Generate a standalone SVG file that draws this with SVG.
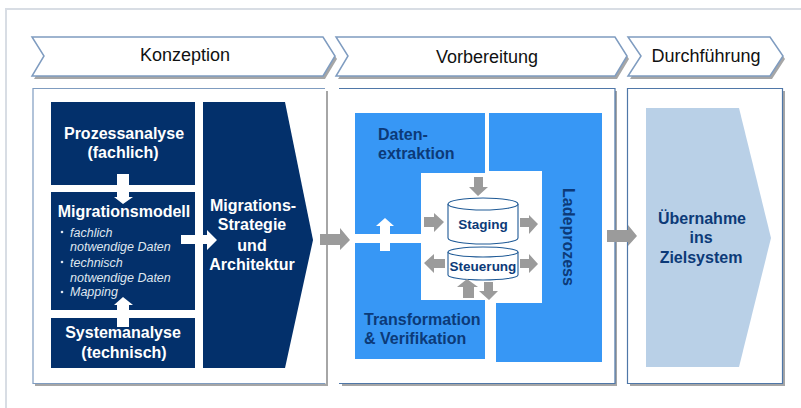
<svg xmlns="http://www.w3.org/2000/svg" width="801" height="408" viewBox="0 0 801 408">
<style>
text{font-family:"Liberation Sans",Arial,sans-serif;text-anchor:middle}
.hd{font-size:18px;fill:#111}
.wb{font-size:16px;font-weight:bold;fill:#fff}
.db{font-size:16px;font-weight:bold;fill:#0c3a78}
.cy{font-size:13.500px}
.st{text-anchor:start}
.it{font-size:12.500px;font-style:italic;fill:#dfe6ef;text-anchor:start}
.chev{fill:#fff;stroke:#7f9cc0;stroke-width:1.5}
.shade{fill:#a6a6a6}
.pf{fill:#fff}
.edge{fill:none;stroke:#4f77a8;stroke-width:1.2}
.navy{fill:#03306b}
.blue{fill:#3797f5}
.ga{fill:#9b9b9b}
.wa{fill:#fff}
.cyl{fill:#fff;stroke:#1f5a96;stroke-width:1.1}
.frame{fill:none;stroke:#d8dde4;stroke-width:2}
</style>
<rect width="801" height="408" fill="#fff"/>
<path class="frame" d="M6 408V9H801"/>
<g id="phase-konzeption">
<path class="shade" d="M34 40H325L337 59L325 79H34L46 59Z"/>
<path class="chev" d="M32 37H323L335 56L323 76H32L44 56Z"/>
<text class="hd" x="185" y="61">Konzeption</text>
</g>
<g id="phase-vorbereitung">
<path class="shade" d="M338 40H617L629 59L617 79H338L350 59Z"/>
<path class="chev" d="M336 37H615L627 56L615 76H336L348 56Z"/>
<text class="hd" x="487" y="63">Vorbereitung</text>
</g>
<g id="phase-durchfuehrung">
<path class="shade" d="M630 40H772L785 59L772 79H630L643 59Z"/>
<path class="chev" d="M628 37H770L783 56L770 76H628L641 56Z"/>
<text class="hd" x="706" y="62">Durchführung</text>
</g>
<g id="panel-konzeption">
<rect class="shade" x="35" y="91" width="293" height="295"/>
<rect class="pf" x="33" y="88.500" width="293" height="295"/>
<path class="edge" d="M325 88.500H33V383.500H325" style="stroke:#7f9cc0"/>
</g>
<g id="panel-vorbereitung">
<rect class="shade" x="342" y="91" width="275" height="295"/>
<rect class="pf" x="339" y="88.500" width="276" height="295"/>
<path class="edge" d="M339 88.500H615V383.500H339"/>
</g>
<g id="panel-durchfuehrung">
<rect class="shade" x="630" y="91" width="155" height="295"/>
<rect class="pf" x="627.500" y="88.500" width="155" height="295"/>
<path class="edge" d="M627.500 88.500H782.500V383.500H627.500Z"/>
</g>
<g id="prozessanalyse">
<rect class="navy" x="51" y="102" width="144" height="83"/>
<text class="wb" x="124" y="139">Prozessanalyse</text>
<text class="wb" x="123" y="158">(fachlich)</text>
</g>
<g id="migrationsmodell">
<rect class="navy" x="51" y="192" width="144" height="118"/>
<text class="wb" x="124" y="217">Migrationsmodell</text>
<circle cx="62" cy="232" r="1.300" fill="#dfe6ef"/>
<text class="it" x="70" y="237">fachlich</text>
<text class="it" x="70" y="251">notwendige Daten</text>
<circle cx="62" cy="262" r="1.300" fill="#dfe6ef"/>
<text class="it" x="70" y="267">technisch</text>
<text class="it" x="70" y="282">notwendige Daten</text>
<circle cx="62" cy="292" r="1.300" fill="#dfe6ef"/>
<text class="it" x="70" y="296">Mapping</text>
</g>
<g id="systemanalyse">
<rect class="navy" x="51" y="318" width="144" height="50"/>
<text class="wb" x="123" y="338">Systemanalyse</text>
<text class="wb" x="124" y="358">(technisch)</text>
</g>
<g id="strategie">
<path class="navy" d="M203 102H285L313 240L285 368H203Z"/>
<text class="wb" x="253" y="211">Migrations-</text>
<text class="wb" x="252" y="230">Strategie</text>
<text class="wb" x="252" y="251">und</text>
<text class="wb" x="252" y="270">Architektur</text>
</g>
<g id="datenextraktion">
<path class="blue" d="M355 113H485V173H421V234H355Z"/>
<text class="db st" x="378" y="140">Daten-</text>
<text class="db st" x="378" y="159">extraktion</text>
</g>
<g id="transformation">
<path class="blue" d="M355 243H421V300H485V359H355Z"/>
<text class="db st" x="364" y="325">Transformation</text>
<text class="db st" x="364" y="344">&amp; Verifikation</text>
</g>
<g id="ladeprozess">
<path class="blue" d="M489 113H602V362H496V303H542V171H489Z"/>
<text class="db" x="0" y="0" transform="translate(563 237) rotate(90)">Ladeprozess</text>
</g>
<g id="staging">
<path class="cyl" d="M448 204V238A35 6 0 0 0 518 238V204"/>
<ellipse class="cyl" cx="483" cy="204" rx="35" ry="6"/>
<text class="db cy" x="483" y="229">Staging</text>
</g>
<g id="steuerung">
<path class="cyl" d="M448 252V275A35 5 0 0 0 518 275V252"/>
<ellipse class="cyl" cx="483" cy="252" rx="35" ry="5"/>
<text class="db cy" x="483" y="271">Steuerung</text>
</g>
<g id="uebernahme">
<path fill="#b9d0e7" d="M646 108H739L771 238L739 367H646Z"/>
<text class="db" x="702" y="224">Übernahme</text>
<text class="db" x="701" y="243">ins</text>
<text class="db" x="701" y="263">Zielsystem</text>
</g>
<g id="connectors">
<path class="wa" d="M117 174H129V197H133L123 204L114 197H117Z"/>
<path class="wa" d="M117 327H129V305H133L123 297L114 305H117Z"/>
<path class="wa" d="M181 235H207V230L217 240L207 250V244H181Z"/>
<path class="wa" d="M380 251V226H376L385 218L394 226H390V251Z"/>
<path class="ga" d="M320 234H340V228L350 240L340 250V245H320Z"/>
<path class="ga" d="M607 230H628V225L637 236L628 246V242H607Z"/>
<path class="ga" d="M474 177H483V187H488L478 196L469 187H474Z"/>
<path class="ga" d="M424 217H434V213L444 222L434 232V227H424Z"/>
<path class="ga" d="M520 218H529V215L538 224L529 234V227H520Z"/>
<path class="ga" d="M445 259V268H434V273L424 263L434 254V259Z"/>
<path class="ga" d="M520 259H529V254L538 264L529 273V268H520Z"/>
<path class="ga" d="M463 298V287H457L467 279L478 287H474V298Z"/>
<path class="ga" d="M484 282H493V291H498L489 300L479 291H484Z"/>
</g>
</svg>
